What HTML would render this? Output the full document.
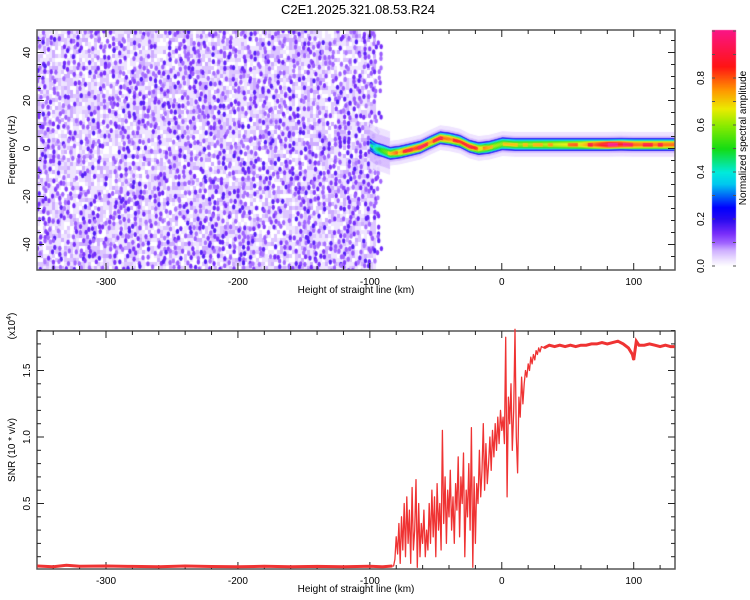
<!DOCTYPE html>
<html><head><meta charset="utf-8">
<style>
body{margin:0;background:#fff;width:750px;height:600px;overflow:hidden;font-family:"Liberation Sans",sans-serif;}
#wrap{position:relative;width:750px;height:600px;}
canvas{position:absolute;left:0;top:0;}
svg{position:absolute;left:0;top:0;}
</style></head><body>
<div id="wrap">
<canvas id="spec" width="750" height="600"></canvas>
<svg id="svg" width="750" height="600"></svg>
</div>
<script>
// ---- data ----
const ridgeHeights=[-100,-96,-90,-85,-78,-70,-62,-55,-47,-40,-32,-25,-18,-10,0,10,30,60,80,90,100,115,131];
const ridgeFreqs=[1.5,0,-1,-2,-1.5,-0.5,0.6,2.5,4.5,4,3,1,0,0.5,2,1.7,1.7,1.7,1.7,1.8,1.7,1.7,1.7];
const ridgeAmps=[0.3,0.45,0.55,0.6,0.72,0.8,0.85,0.75,0.8,0.78,0.72,0.8,0.7,0.62,0.6,0.6,0.62,0.7,0.92,0.88,0.8,0.78,0.8];
const snrFlatHeights=[-352,-340,-330,-320,-300,-280,-260,-240,-220,-200,-180,-160,-140,-120,-100,-90,-83];
const snrFlatValues=[0.03,0.025,0.035,0.028,0.03,0.027,0.025,0.03,0.026,0.025,0.028,0.024,0.027,0.025,0.028,0.024,0.03];
const snrNoisyStart=-82;
const snrNoisyValues=[0.03,0.08,0.25,0.12,0.35,0.05,0.4,0.15,0.5,0.1,0.55,0.2,0.45,0.05,0.62,0.15,0.3,0.68,0.02,0.5,0.1,0.35,0.2,0.45,0.1,0.3,0.15,0.5,0.2,0.6,0.25,0.55,0.1,0.65,0.3,0.5,0.15,1.05,0.35,0.7,0.2,0.6,0.4,0.75,0.3,0.55,0.2,0.65,0.45,0.85,0.25,0.7,0.5,0.88,0.1,0.6,0.4,0.8,0.3,1.07,0.02,0.7,0.2,0.65,0.5,0.9,0.55,0.75,1.1,0.6,0.95,0.65,0.8,1.0,0.75,1.05,0.85,1.1,0.9,1.15,0.95,1.2,1.05,1.15,0.95,1.75,0.55,1.3,1.1,1.4,0.9,1.2,1.81,1.0,0.73,1.3,1.15,1.45,1.25,1.4,1.5,1.45,1.55,1.5,1.6,1.55,1.62,1.58,1.65,1.62,1.67,1.64,1.68];
const snrPlateauHeights=[32,36,40,44,48,52,56,60,64,68,72,76,80,84,88,92,96,99,100,102,104,108,112,116,120,124,128,131];
const snrPlateauValues=[1.67,1.69,1.68,1.69,1.68,1.69,1.68,1.69,1.69,1.7,1.7,1.71,1.7,1.71,1.72,1.7,1.67,1.62,1.58,1.72,1.69,1.69,1.7,1.69,1.68,1.69,1.68,1.68];
const xTicks=[-300,-200,-100,0,100];
const fTicks=[-40,-20,0,20,40];
const snrTicks=[0.5,1.0,1.5];
const cbTicks=[0.0,0.2,0.4,0.6,0.8];

// ---- axes ----
const X0=37,X1=675;
const xs=h=>X0+(h+352.3)*(X1-X0)/(131.3+352.3);
const fy=f=>148.5-f*2.4;
const sy=v=>570-v*133;
const cy=v=>266-v*235;

const stops=[[0,[255,255,255]],[0.03,[236,224,255]],[0.07,[205,172,255]],[0.1,[160,100,255]],[0.14,[120,45,250]],[0.2,[40,10,240]],[0.25,[0,0,255]],[0.35,[0,200,240]],[0.4,[0,235,220]],[0.5,[20,220,20]],[0.6,[140,235,0]],[0.67,[235,235,0]],[0.75,[255,150,0]],[0.85,[255,20,20]],[1,[250,20,130]]];
function cmap(v){v=Math.max(0,Math.min(1,v));for(let i=1;i<stops.length;i++){if(v<=stops[i][0]){const a=stops[i-1],b=stops[i];const t=(v-a[0])/(b[0]-a[0]);return 'rgb('+a[1].map((c,k)=>Math.round(c+(b[1][k]-c)*t)).join(',')+')';}}return 'rgb(250,20,130)';}
function interp(xsA,ysA,x){if(x<=xsA[0])return ysA[0];for(let i=1;i<xsA.length;i++){if(x<=xsA[i]){const t=(x-xsA[i-1])/(xsA[i]-xsA[i-1]);return ysA[i-1]+(ysA[i]-ysA[i-1])*t;}}return ysA[ysA.length-1];}
function hash(a,b){let h=(a*374761393+b*668265263)|0;h=Math.imul(h^(h>>>13),1274126177);return ((h^(h>>>16))>>>0)/4294967296;}

// ---- spectrogram canvas ----
const ctx=document.getElementById('spec').getContext('2d');
ctx.save();ctx.beginPath();ctx.rect(X0,30,X1-X0,240);ctx.clip();
const noiseEnd=xs(-98);
ctx.fillStyle=cmap(0.04);ctx.fillRect(X0,30,noiseEnd-X0,240);
// light texture layer
for(let i=0;i*3<noiseEnd-X0+3;i++){for(let j=0;j*4<244;j++){
 const r=hash(i+1000,j);const v=r<0.25?0.0:r<0.6?0.025:r<0.85?0.05:0.07;
 ctx.fillStyle=cmap(v);ctx.fillRect(X0+i*3,30+j*4,3,4);}}
// dark dots
for(let i=0;i*5<noiseEnd-X0+5;i++){for(let j=0;j*5<245;j++){
 const r=hash(i,j);if(r<0.45)continue;
 const v=r<0.7?0.09+0.02*hash(j,i):0.12+0.05*hash(i,j+9);
 const jx=(hash(i+3,j+5)-0.5)*4,jy=(hash(i+11,j+2)-0.5)*4;
 ctx.fillStyle=cmap(v);ctx.beginPath();ctx.ellipse(X0+i*5+2.5+jx,30+j*5+2.5+jy,1.7,2.6,0,0,Math.PI*2);ctx.fill();}}
for(let px=xs(-100);px<X1;px+=1){
 const h=(px-X0)*(131.3+352.3)/(X1-X0)-352.3;
 const fc=interp(ridgeHeights,ridgeFreqs,h),a=interp(ridgeHeights,ridgeAmps,h);
 for(let f=-10;f<=10;f+=0.3){
  const d=Math.abs(f);const halo=h<-85?1.8:1;
  let v=d<1.6?a*(1-0.3*(d/1.6)**2):d<2.1?0.38:d<2.7?0.22:d<3.6*halo?0.06:d<5*halo?0.03:0;
  if(d<0.8&&hash(Math.round(px/5),7)>0.6)v=Math.min(1,v+0.12);
  if(v<=0)continue;ctx.fillStyle=cmap(v);ctx.fillRect(px,fy(fc+f)-0.4,1.2,0.9);}}
ctx.restore();
for(let y=30;y<268;y++){ctx.fillStyle=cmap((266-y)/235);ctx.fillRect(712,y,24,1);}

// ---- SVG ----
const svg=document.getElementById('svg');const NS='http://www.w3.org/2000/svg';
function el(tag,attrs,parent){const e=document.createElementNS(NS,tag);for(const k in attrs)e.setAttribute(k,attrs[k]);(parent||svg).appendChild(e);return e;}
function txt(s,x,y,size,extra){const t=el('text',Object.assign({x:x,y:y,'font-size':size,'font-family':'Liberation Sans, sans-serif','text-anchor':'middle',fill:'#000'},extra||{}));t.textContent=s;return t;}

const title=txt('C2E1.2025.321.08.53.R24',358,14,13);



function frame(y0,y1,name){
 const g=el('g',{});
 
 
 el('rect',{x:X0,y:y0,width:X1-X0,height:y1-y0,fill:'none',stroke:'#555','stroke-width':1.5},g);
 for(let h=-340;h<=131;h+=20){const x=xs(h);const L=(h%100===0)?7:4;
  el('line',{x1:x,x2:x,y1:y1,y2:y1-L,stroke:'#222'},g);el('line',{x1:x,x2:x,y1:y0,y2:y0+L,stroke:'#222'},g);}
 xTicks.forEach(h=>{const t=txt(String(h),xs(h),y1+15,10,{});g.appendChild(t);});
 const xl=txt('Height of straight line (km)',356,y1+23,10);g.appendChild(xl);
 
 
 return g;}
const topG=frame(30,270,'spectrogram-axes');
for(let f=-45;f<=49;f+=5){const y=fy(f);const L=(f%20===0)?7:4;el('line',{x1:X0,x2:X0+L,y1:y,y2:y,stroke:'#222'},topG);el('line',{x1:X1,x2:X1-L,y1:y,y2:y,stroke:'#222'},topG);}
fTicks.forEach(f=>{const t=txt(String(f),30,fy(f),10,{transform:'rotate(-90 30 '+fy(f)+')'});topG.appendChild(t);});
const fyl=txt('Frequency (Hz)',15,150,10,{transform:'rotate(-90 15 150)'});



const botG=frame(331,569,'snr-axes');
for(let v=0.1;v<1.81;v+=0.1){const y=sy(v);const L=(Math.abs(v*2-Math.round(v*2))<0.01)?7:4;el('line',{x1:X0,x2:X0+L,y1:y,y2:y,stroke:'#222'},botG);el('line',{x1:X1,x2:X1-L,y1:y,y2:y,stroke:'#222'},botG);}
snrTicks.forEach(v=>{const t=txt(v.toFixed(1),30,sy(v),10,{transform:'rotate(-90 30 '+sy(v)+')'});botG.appendChild(t);});
const syl=txt('SNR (10 * v/v)',15,450,10,{transform:'rotate(-90 15 450)'});


const mult=el('text',{x:15,y:326,'font-size':10,'font-family':'Liberation Sans, sans-serif','text-anchor':'middle',transform:'rotate(-90 15 326)'});
mult.innerHTML='(x10<tspan dy="-4" font-size="7">4</tspan><tspan dy="4">)</tspan>';



const pts=[];
snrFlatHeights.forEach((h,i)=>pts.push([h,snrFlatValues[i]]));
snrNoisyValues.forEach((v,i)=>pts.push([snrNoisyStart+i,v]));
snrPlateauHeights.forEach((h,i)=>pts.push([h,snrPlateauValues[i]]));
const d=pts.map((p,i)=>(i?'L':'M')+xs(p[0]).toFixed(1)+','+sy(p[1]).toFixed(1)).join('');
const line=el('path',{d:d,fill:'none',stroke:'#ef3333','stroke-width':1.3,'stroke-linejoin':'round'});


const flat=snrFlatHeights.map((h,i)=>(i?'L':'M')+xs(h).toFixed(1)+','+sy(snrFlatValues[i]).toFixed(1)).join('');
const fl=el('path',{d:flat,fill:'none',stroke:'#ef3333','stroke-width':3});


const plat=snrPlateauHeights.map((h,i)=>(i?'L':'M')+xs(h).toFixed(1)+','+sy(snrPlateauValues[i]).toFixed(1)).join('');
const pl=el('path',{d:plat,fill:'none',stroke:'#ef3333','stroke-width':3});



const cb=el('g',{});


for(let v=0;v<=1.001;v+=0.1){el('line',{x1:712,x2:715,y1:cy(v),y2:cy(v),stroke:'#555'},cb);el('line',{x1:733,x2:736,y1:cy(v),y2:cy(v),stroke:'#555'},cb);}
cbTicks.forEach(v=>{const t=txt(v.toFixed(1),704,cy(v),10,{transform:'rotate(-90 704 '+cy(v)+')'});cb.appendChild(t);});
const cbl=txt('Normalized spectral amplitude',746,138,10,{transform:'rotate(-90 746 138)'});


</script>
</body></html>
